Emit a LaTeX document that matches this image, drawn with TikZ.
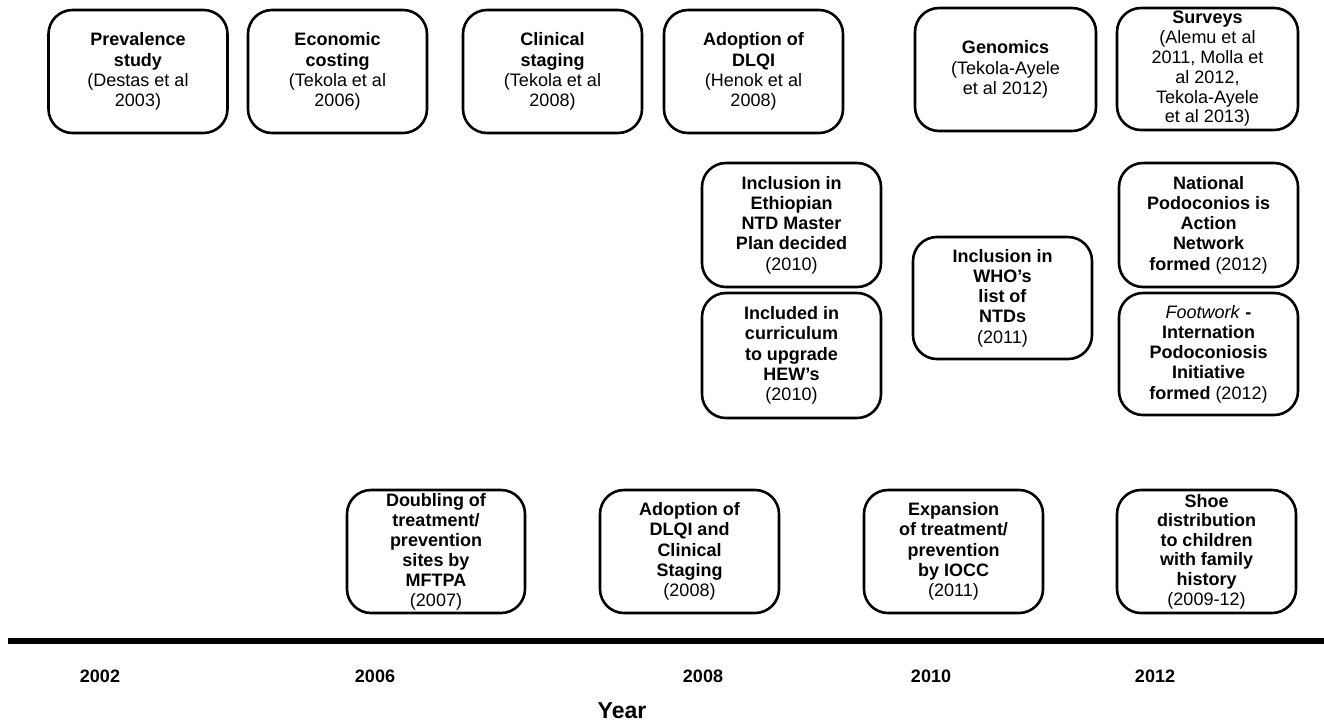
\documentclass[tikz,border=0pt]{standalone}
\usepackage{fontspec}
\setmainfont{Liberation Sans}
\begin{document}
\begin{tikzpicture}[x=1pt,y=-1pt,
  evbox/.style={draw=black, line width=2.6pt, rounded corners=24pt, align=center,
    inner sep=0pt, minimum width=179pt, minimum height=123pt,
    font=\fontsize{18}{20.2}\selectfont},
  yearlbl/.style={font=\bfseries\fontsize{18}{21}\selectfont, anchor=center}]
\useasboundingbox (0,0) rectangle (1324,724);
% top row
\node[evbox] (prev) at (138,71.5) {\textbf{Prevalence}\\\textbf{study}\\(Destas et al\\2003)};
\node[evbox] (econ) at (337.5,71.5) {\textbf{Economic}\\\textbf{costing}\\(Tekola et al\\2006)};
\node[evbox] (clin) at (552.5,71.5) {\textbf{Clinical}\\\textbf{staging}\\(Tekola et al\\2008)};
\node[evbox] (dlqi) at (753.5,71.5) {\textbf{Adoption of}\\\textbf{DLQI}\\(Henok et al\\2008)};
\node[evbox, minimum width=181pt] (geno) at (1005.5,69.5) {\textbf{Genomics}\\(Tekola-Ayele\\et al 2012)};
\node[evbox, minimum width=181pt, minimum height=122pt, font=\fontsize{18}{19.8}\selectfont] (surv) at (1207.5,69) {\textbf{Surveys}\\(Alemu et al\\2011, Molla et\\al 2012,\\Tekola-Ayele\\et al 2013)};
% middle
\node[evbox, minimum height=124pt] (ntd) at (791.5,225) {\textbf{Inclusion in}\\\textbf{Ethiopian}\\\textbf{NTD Master}\\\textbf{Plan decided}\\(2010)};
\node[evbox, minimum height=125pt] (hew) at (791.5,355.5) {\textbf{Included in}\\\textbf{curriculum}\\\textbf{to upgrade}\\\textbf{HEW’s}\\(2010)};
\node[evbox, minimum height=122pt] (who) at (1002.5,298) {\textbf{Inclusion in}\\\textbf{WHO’s}\\\textbf{list of}\\\textbf{NTDs}\\(2011)};
\node[evbox, minimum height=124pt] (napn) at (1208.5,225) {\textbf{National}\\\textbf{Podoconios is}\\\textbf{Action}\\\textbf{Network}\\\textbf{formed} (2012)};
\node[evbox, minimum height=122pt] (foot) at (1208.5,354) {\textit{Footwork} \textbf{-}\\\textbf{Internation}\\\textbf{Podoconiosis}\\\textbf{Initiative}\\\textbf{formed} (2012)};
% bottom row
\node[evbox, minimum width=178pt, font=\fontsize{18}{20}\selectfont] (mftpa) at (436,551.5) {\textbf{Doubling of}\\\textbf{treatment/}\\\textbf{prevention}\\\textbf{sites by}\\\textbf{MFTPA}\\(2007)};
\node[evbox] (dlqics) at (689.5,551.5) {\textbf{Adoption of}\\\textbf{DLQI and}\\\textbf{Clinical}\\\textbf{Staging}\\(2008)};
\node[evbox] (iocc) at (953.5,551.5) {\textbf{Expansion}\\\textbf{of treatment/}\\\textbf{prevention}\\\textbf{by IOCC}\\(2011)};
\node[evbox, font=\fontsize{18}{19.6}\selectfont] (shoe) at (1206.5,551.5) {\textbf{Shoe}\\\textbf{distribution}\\\textbf{to children}\\\textbf{with family}\\\textbf{history}\\(2009-12)};
% timeline
\draw[line width=5.5pt] (8,641) -- (1324,641);
\node[yearlbl] (y2002) at (100,676) {2002};
\node[yearlbl] (y2006) at (375,676) {2006};
\node[yearlbl] (y2008) at (703,676) {2008};
\node[yearlbl] (y2010) at (931,676) {2010};
\node[yearlbl] (y2012) at (1155,676) {2012};
\node[font=\bfseries\fontsize{23}{27}\selectfont] (year) at (622,711) {Year};
\end{tikzpicture}
\end{document}
